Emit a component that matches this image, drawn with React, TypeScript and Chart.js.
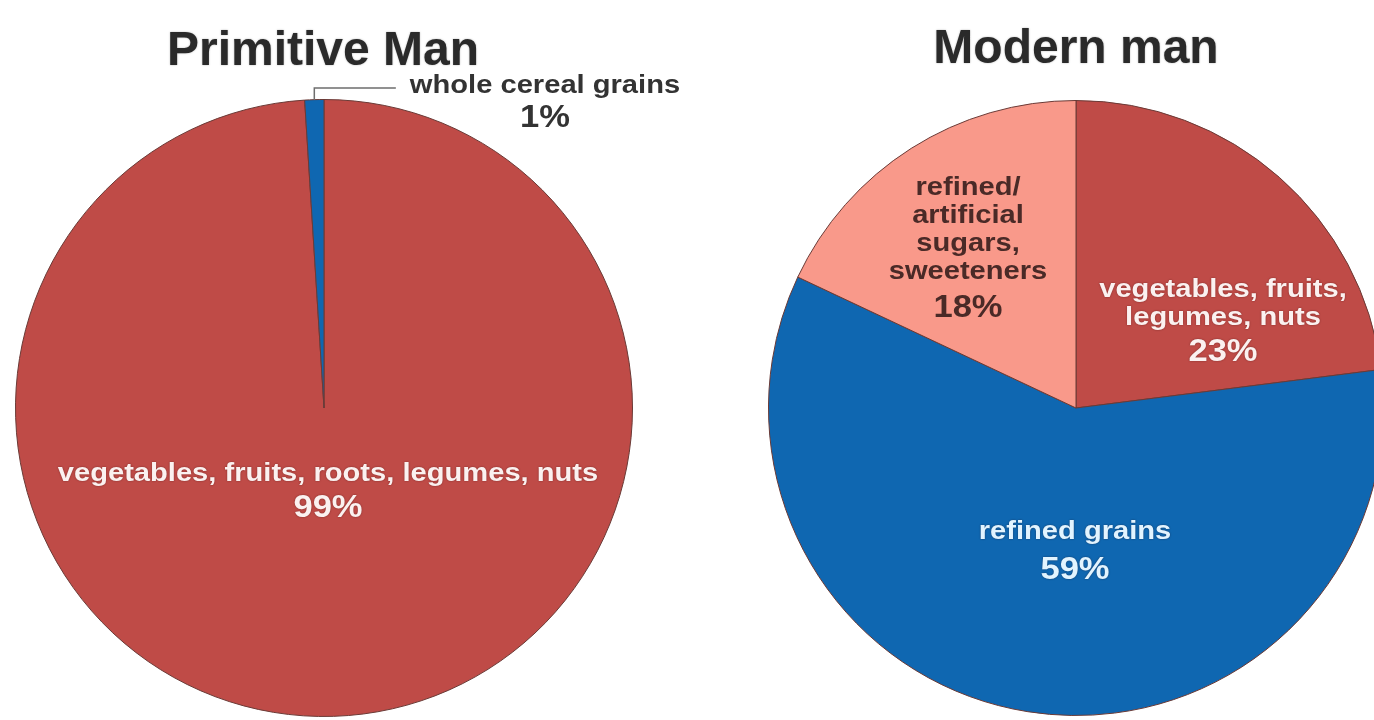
import React, { useEffect, useRef } from "react";
import { Chart, registerables } from "chart.js";

Chart.register(...registerables);

// ---- data ----
const primitiveTitle = "Primitive Man";
const primitiveCategories = ["vegetables, fruits, roots, legumes, nuts", "whole cereal grains"];
const primitiveValues = [99, 1];
const primitiveLabelLines = [["vegetables, fruits, roots, legumes, nuts"], ["whole cereal grains"]];

const modernTitle = "Modern man";
const modernCategories = [
  "vegetables, fruits, legumes, nuts",
  "refined grains",
  "refined/artificial sugars, sweeteners",
];
const modernValues = [23, 59, 18];
const modernLabelLines = [
  ["vegetables, fruits,", "legumes, nuts"],
  ["refined grains"],
  ["refined/", "artificial", "sugars,", "sweeteners"],
];

// ---- styles ----
const RED = "#BF4B47";
const BLUE = "#0F67B1";
const PINK = "#F9998A";
const FONT = "'Liberation Sans', Arial, Helvetica, sans-serif";

// label layout (offsets relative to pie centre, px)
const primitiveLayout = [
  { dx: 4, dy: 66, pctDy: 100, color: "#fbf1f0", shadow: true },
  { dx: 221, dy: -322, pctDy: -290, color: "#333333", shadow: false, leader: true },
];
const modernLayout = [
  { dx: 147, dy: -118, pctDy: -56, color: "#fbf1f0", shadow: true },
  { dx: -1, dy: 124, pctDy: 162, color: "#e2f4ff", shadow: true },
  { dx: -108, dy: -220, pctDy: -100, color: "#4a2a27", shadow: false },
];

function drawStretched(ctx: any, text: string, x: number, y: number, sx: number) {
  ctx.save();
  ctx.translate(x, y);
  ctx.scale(sx, 1);
  ctx.fillText(text, 0, 0);
  ctx.restore();
}

const sliceTextPlugin = {
  id: "sliceText",
  afterDatasetsDraw(chart: any, _args: any, opts: any) {
    const { ctx } = chart;
    const meta = chart.getDatasetMeta(0);
    if (!meta.data.length) return;
    const a0: any = meta.data[0];
    const cx = a0.x;
    const cy = a0.y;
    const r = a0.outerRadius;
    const values = chart.data.datasets[0].data;
    opts.layout.forEach((s: any, i: number) => {
      const lines: string[] = opts.lines[i];
      ctx.save();
      ctx.textAlign = "center";
      ctx.textBaseline = "middle";
      ctx.fillStyle = s.color;
      if (s.shadow) {
        ctx.shadowColor = "rgba(40,0,0,0.45)";
        ctx.shadowBlur = 2;
      }
      ctx.font = `bold ${opts.labelSize}px ${FONT}`;
      let maxW = 0;
      lines.forEach((line, j) => {
        drawStretched(ctx, line, cx + s.dx, cy + s.dy + j * opts.lineGap, opts.labelStretch);
        maxW = Math.max(maxW, ctx.measureText(line).width * opts.labelStretch);
      });
      ctx.font = `bold ${opts.pctSize}px ${FONT}`;
      drawStretched(ctx, `${values[i]}%`, cx + s.dx, cy + s.pctDy, opts.pctStretch);
      ctx.restore();
      if (s.leader) {
        const arc: any = meta.data[i];
        const mid = (arc.startAngle + arc.endAngle) / 2;
        const px = cx + Math.cos(mid) * r;
        const py = cy + Math.sin(mid) * r;
        const ly = cy + s.dy + 2;
        ctx.save();
        ctx.strokeStyle = "#6e6e6e";
        ctx.lineWidth = 1.5;
        ctx.beginPath();
        ctx.moveTo(px, py);
        ctx.lineTo(px, ly);
        ctx.lineTo(cx + s.dx - maxW / 2 - 14, ly);
        ctx.stroke();
        ctx.restore();
      }
    });
    // title
    ctx.save();
    ctx.font = `bold ${opts.titleSize}px ${FONT}`;
    ctx.fillStyle = "#2a2a2a";
    ctx.textAlign = "center";
    ctx.textBaseline = "alphabetic";
    ctx.shadowColor = "rgba(0,0,0,0.3)";
    ctx.shadowBlur = 2;
    ctx.fillText(opts.title, cx + opts.titleDx, opts.titleY);
    ctx.restore();
  },
};

function makePie(
  canvas: HTMLCanvasElement,
  labels: string[],
  values: number[],
  colors: string[],
  padding: any,
  textOpts: any
) {
  return new Chart(canvas, {
    type: "pie",
    data: {
      labels,
      datasets: [
        {
          data: values,
          backgroundColor: colors,
          borderColor: "#6a3a36",
          borderWidth: 1,
        },
      ],
    },
    options: {
      responsive: false,
      animation: false,
      layout: { padding },
      plugins: {
        legend: { display: false },
        tooltip: { enabled: false },
        title: { display: false },
        sliceText: textOpts,
      } as any,
    },
    plugins: [sliceTextPlugin],
  });
}

export default function App() {
  const leftRef = useRef<HTMLCanvasElement>(null);
  const rightRef = useRef<HTMLCanvasElement>(null);

  useEffect(() => {
    const common = {
      titleSize: 48,
      labelSize: 26,
      labelStretch: 1.12,
      pctSize: 32,
      pctStretch: 1.08,
      lineGap: 28,
    };
    const left = makePie(
      leftRef.current!,
      primitiveCategories,
      primitiveValues,
      [RED, BLUE],
      { top: 99, bottom: 3, left: 0, right: 72 },
      {
        ...common,
        title: primitiveTitle,
        titleY: 65,
        titleDx: -1,
        lines: primitiveLabelLines,
        layout: primitiveLayout,
      }
    );
    const right = makePie(
      rightRef.current!,
      modernCategories,
      modernValues,
      [RED, BLUE, PINK],
      { top: 100, bottom: 4, left: 0, right: 0 },
      {
        ...common,
        title: modernTitle,
        titleY: 63,
        titleDx: 0,
        lines: modernLabelLines,
        layout: modernLayout,
      }
    );
    return () => {
      left.destroy();
      right.destroy();
    };
  }, []);

  return (
    <div
      style={{
        position: "fixed",
        left: 0,
        top: 0,
        width: 1374,
        height: 720,
        overflow: "hidden",
        background: "#ffffff",
      }}
    >
      <canvas
        ref={leftRef}
        width={720}
        height={720}
        style={{ position: "absolute", left: 0, top: 0, width: 720, height: 720 }}
      />
      <canvas
        ref={rightRef}
        width={620}
        height={720}
        style={{ position: "absolute", left: 766, top: 0, width: 620, height: 720 }}
      />
    </div>
  );
}
